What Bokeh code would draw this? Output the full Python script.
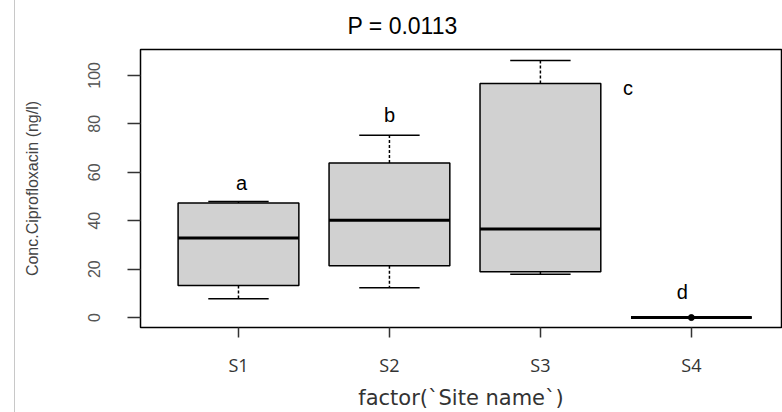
from bokeh.plotting import figure
from bokeh.models import FixedTicker, Range1d, Div
from bokeh.layouts import row
from bokeh.embed import file_html
from bokeh.resources import INLINE

# ---- data ----
sites = ["S1", "S2", "S3", "S4"]
lower_whisker = [7.8, 12.3, 17.9, 0.0]
q1 = [13.2, 21.4, 18.9, 0.0]
median = [32.9, 40.2, 36.6, 0.0]
q3 = [47.3, 63.8, 96.7, 0.0]
upper_whisker = [47.9, 75.3, 106.2, 0.0]
outlier_site = ["S4"]
outlier_value = [0.0]
letters = ["a", "b", "c", "d"]
letter_x = [1.02, 2.0, 3.58, 3.94]
letter_y = [55.6, 83.5, 95.0, 10.7]
y_ticks = [0, 20, 40, 60, 80, 100]
title_text = "P = 0.0113"
x_title = "factor(`Site name`)"
y_title = "Conc.Ciprofloxacin (ng/l)"

xpos = [i + 1 for i in range(len(sites))]
box_w = 0.8
cap_w = 0.4

p = figure(width=767, height=412, output_backend="svg", toolbar_location=None,
           x_range=Range1d(0.351, 4.597), y_range=Range1d(-4.1, 110.7),
           min_border_left=125, min_border_right=1, min_border_top=49, min_border_bottom=84,
           margin=0)
p.background_fill_color = "white"
p.border_fill_color = "white"
p.outline_line_color = "black"
p.outline_line_width = 1.5
p.xgrid.visible = False
p.ygrid.visible = False

# title
p.title.text = title_text
p.title.align = "left"
p.title.offset = 207
p.title.text_font = "Liberation Sans"
p.title.text_font_size = "23px"
p.title.text_font_style = "normal"
p.title.text_color = "black"
p.title.standoff = 21

# whiskers
p.segment(x0=xpos, x1=xpos, y0=q3, y1=upper_whisker, line_color="black", line_width=1.5, line_dash="3 2")
p.segment(x0=xpos, x1=xpos, y0=q1, y1=lower_whisker, line_color="black", line_width=1.5, line_dash="3 2")
# caps
p.segment(x0=[x - cap_w / 2 for x in xpos], x1=[x + cap_w / 2 for x in xpos], y0=upper_whisker, y1=upper_whisker,
          line_color="black", line_width=1.5)
p.segment(x0=[x - cap_w / 2 for x in xpos], x1=[x + cap_w / 2 for x in xpos], y0=lower_whisker, y1=lower_whisker,
          line_color="black", line_width=1.5)
# boxes
p.vbar(x=xpos, width=box_w, top=q3, bottom=q1, fill_color="#d1d1d1", line_color="black", line_width=1.5)
# medians
p.segment(x0=[x - box_w / 2 for x in xpos], x1=[x + box_w / 2 for x in xpos], y0=median, y1=median,
          line_color="black", line_width=3)
# outliers
p.scatter(x=[xpos[sites.index(s)] for s in outlier_site], y=outlier_value, size=6, color="black")
# letters
p.text(x=letter_x, y=letter_y, text=letters, text_align="center", text_baseline="middle",
       text_font_size="20px", text_color="black", text_font={"value": "Liberation Sans"})

# axes
p.xaxis.ticker = FixedTicker(ticks=xpos)
p.xaxis.major_label_overrides = {x: s for x, s in zip(xpos, sites)}
p.yaxis.ticker = FixedTicker(ticks=y_ticks)
for ax in (p.xaxis[0], p.yaxis[0]):
    ax.axis_line_color = None
    ax.minor_tick_line_color = None
    ax.major_tick_in = 0
    ax.major_tick_line_color = "#333333"
    ax.major_tick_line_width = 1.5
p.yaxis.major_tick_out = 13
p.xaxis.major_tick_out = 10
p.yaxis.major_label_orientation = "vertical"
p.yaxis.major_label_text_font = "Liberation Sans"
p.yaxis.major_label_text_font_size = "16px"
p.yaxis.major_label_text_color = "#555555"
p.yaxis.major_label_standoff = 27
p.xaxis.major_label_text_font = "Open Sans"
p.xaxis.major_label_text_font_size = "18px"
p.xaxis.major_label_text_color = "#333333"
p.xaxis.major_label_standoff = 15
p.xaxis.axis_label = x_title
p.xaxis.axis_label_text_font = "DejaVu Sans"
p.xaxis.axis_label_text_font_size = "21px"
p.xaxis.axis_label_text_font_style = "normal"
p.xaxis.axis_label_text_color = "#333333"
p.xaxis.axis_label_standoff = 6
p.yaxis.axis_label = y_title
p.yaxis.axis_label_text_font = "Liberation Sans"
p.yaxis.axis_label_text_font_size = "16px"
p.yaxis.axis_label_text_font_style = "normal"
p.yaxis.axis_label_text_color = "#444444"
p.yaxis.axis_label_standoff = 45

# thin grey border at the far left of the picture
edge = Div(text="", width=14, height=412, margin=0,
           styles={"border-right": "1.5px solid #c8c8c8", "background-color": "white", "box-sizing": "content-box"})

layout = row(edge, p, spacing=0, margin=0)
open("out.html", "w").write(file_html(layout, INLINE))
